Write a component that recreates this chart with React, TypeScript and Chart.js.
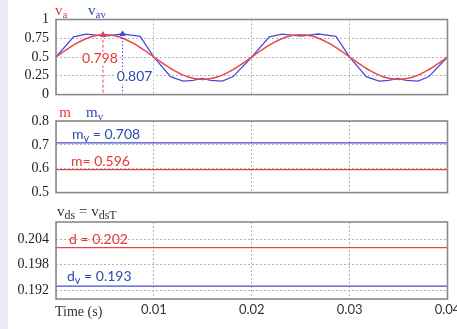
import React, { useEffect, useRef } from 'react';
import { Chart, registerables } from 'chart.js';

Chart.register(...registerables);

// ---------- data ----------
const xTicks = [0, 0.01, 0.02, 0.03, 0.04];
const xTickLabels = ['', '0.01', '0.02', '0.03', '0.04'];

const vaTime = [
  0, 0.001, 0.002, 0.003, 0.004, 0.005, 0.006, 0.007, 0.008, 0.009, 0.01,
  0.011, 0.012, 0.013, 0.014, 0.015, 0.016, 0.017, 0.018, 0.019, 0.02,
  0.021, 0.022, 0.023, 0.024, 0.025, 0.026, 0.027, 0.028, 0.029, 0.03,
  0.031, 0.032, 0.033, 0.034, 0.035, 0.036, 0.037, 0.038, 0.039, 0.04,
];
const vaValues = [
  0.5, 0.592, 0.675, 0.741, 0.783, 0.798, 0.783, 0.741, 0.675, 0.592, 0.5,
  0.408, 0.325, 0.259, 0.217, 0.202, 0.217, 0.259, 0.325, 0.408, 0.5,
  0.592, 0.675, 0.741, 0.783, 0.798, 0.783, 0.741, 0.675, 0.592, 0.5,
  0.408, 0.325, 0.259, 0.217, 0.202, 0.217, 0.259, 0.325, 0.408, 0.5,
];

const vavTime = [
  0, 0.0018, 0.0031, 0.0038, 0.005, 0.0068, 0.0075, 0.0086, 0.01,
  0.0117, 0.013, 0.014, 0.0149, 0.0158, 0.017, 0.0181, 0.02,
  0.0218, 0.0231, 0.0238, 0.025, 0.0268, 0.0275, 0.0286, 0.03,
  0.0317, 0.033, 0.034, 0.0349, 0.0358, 0.037, 0.0381, 0.04,
];
const vavValues = [
  0.5, 0.77, 0.805, 0.795, 0.78, 0.807, 0.795, 0.775, 0.5,
  0.24, 0.18, 0.19, 0.215, 0.19, 0.18, 0.24, 0.5,
  0.77, 0.805, 0.795, 0.78, 0.807, 0.795, 0.775, 0.5,
  0.24, 0.18, 0.19, 0.215, 0.19, 0.18, 0.24, 0.5,
];

const vaPeak = { t: 0.0048, v: 0.798 };
const vavPeak = { t: 0.0068, v: 0.807 };

const mValue = 0.596;
const mvValue = 0.708;
const dValue = 0.202;
const dvValue = 0.193;

const y1Ticks = [0, 0.25, 0.5, 0.75, 1];
const y1Labels = ['0', '0.25', '0.5', '0.75', '1'];
const y2Ticks = [0.5, 0.6, 0.7, 0.8];
const y2Labels = ['0.5', '0.6', '0.7', '0.8'];
const y3Ticks = [0.192, 0.198, 0.204];
const y3Labels = ['0.192', '0.198', '0.204'];

// ---------- styles ----------
const RED_LINE = '#e8474a';
const BLUE_LINE = '#4a4ad8';
const RED_TEXT = '#e23a36';
const BLUE_TEXT = '#2f4cae';
const DARK = '#333333';
const GRID = '#b4b4b4';
const FRAME = '#8a8a8a';
const SERIF = '"Liberation Serif", "DejaVu Serif", serif';
const SANS = 'Lato, "Open Sans", sans-serif';

type Part = { t: string; sub?: boolean };
type TextItem = {
  parts: Part[];
  color: string;
  family: string;
  size: number;
  subSize: number;
  bg?: boolean;
  dx?: number;
  dy?: number;
  ox?: number;
  oy?: number;
  fromBottom?: boolean;
};

function drawRich(ctx: CanvasRenderingContext2D, it: TextItem, x: number, y: number) {
  ctx.save();
  ctx.textAlign = 'left';
  ctx.textBaseline = 'alphabetic';
  let w = 0;
  for (const p of it.parts) {
    ctx.font = `${p.sub ? it.subSize : it.size}px ${it.family}`;
    w += ctx.measureText(p.t).width;
  }
  if (it.bg) {
    ctx.fillStyle = '#ffffff';
    ctx.fillRect(x - 1, y - it.size * 0.78, w + 2, it.size * 1.0);
  }
  ctx.fillStyle = it.color;
  let cx = x;
  for (const p of it.parts) {
    ctx.font = `${p.sub ? it.subSize : it.size}px ${it.family}`;
    ctx.fillText(p.t, cx, y + (p.sub ? it.size * 0.2 : 0));
    cx += ctx.measureText(p.t).width;
  }
  ctx.restore();
}

function textPlugin(items: TextItem[], xLabels: boolean) {
  return {
    id: 'richText',
    afterDatasetsDraw(chart: any) {
      const ctx = chart.ctx as CanvasRenderingContext2D;
      const area = chart.chartArea;
      for (const it of items) {
        let x: number;
        let y: number;
        if (it.dx !== undefined && it.dy !== undefined) {
          x = chart.scales.x.getPixelForValue(it.dx);
          y = chart.scales.y.getPixelForValue(it.dy);
        } else {
          x = area.left + (it.ox || 0);
          y = (it.fromBottom ? area.bottom : area.top) + (it.oy || 0);
        }
        drawRich(ctx, it, x, y);
      }
      if (xLabels) {
        const sx = chart.scales.x;
        ctx.save();
        ctx.font = `13px ${SANS}`;
        ctx.fillStyle = DARK;
        ctx.textAlign = 'center';
        ctx.textBaseline = 'middle';
        sx.ticks.forEach((tk: any, i: number) => {
          ctx.fillText(xTickLabels[i], sx.getPixelForValue(tk.value), area.bottom + 10.5);
        });
        ctx.restore();
      }
    },
  };
}

const framePlugin = {
  id: 'frame',
  afterDraw(chart: any) {
    const { ctx, chartArea: a } = chart;
    ctx.save();
    ctx.strokeStyle = FRAME;
    ctx.lineWidth = 1.6;
    ctx.strokeRect(a.left, a.top, a.right - a.left, a.bottom - a.top);
    ctx.restore();
  },
};

function makeOptions(
  yMin: number,
  yMax: number,
  yTicks: number[],
  yLabels: string[],
  padding: any
): any {
  return {
    responsive: false,
    animation: false,
    events: [],
    layout: { autoPadding: false, padding },
    plugins: { legend: { display: false }, tooltip: { enabled: false } },
    scales: {
      x: {
        type: 'linear',
        min: 0,
        max: 0.04,
        afterBuildTicks: (s: any) => {
          s.ticks = xTicks.map((v) => ({ value: v }));
        },
        grid: { color: GRID, lineWidth: 1, drawTicks: false },
        border: { display: false, dash: [2, 2] },
        ticks: { display: false },
      },
      y: {
        type: 'linear',
        min: yMin,
        max: yMax,
        afterBuildTicks: (s: any) => {
          s.ticks = yTicks.map((v) => ({ value: v }));
        },
        afterFit: (s: any) => {
          s.width = 56;
        },
        grid: { color: GRID, lineWidth: 1, drawTicks: false },
        border: { display: false, dash: [2, 2] },
        ticks: {
          padding: 7,
          color: '#1e1e1e',
          font: { family: SERIF, size: 14 },
          callback: (_v: any, i: number) => yLabels[i],
        },
      },
    },
  };
}

function pts(xs: number[], ys: number[]) {
  return xs.map((x, i) => ({ x, y: ys[i] }));
}

export default function App() {
  const r1 = useRef<HTMLCanvasElement>(null);
  const r2 = useRef<HTMLCanvasElement>(null);
  const r3 = useRef<HTMLCanvasElement>(null);

  useEffect(() => {
    const charts: Chart[] = [];

    // ---- panel 1 ----
    const t1: TextItem[] = [
      { parts: [{ t: 'v' }, { t: 'a', sub: true }], color: RED_TEXT, family: SERIF, size: 15, subSize: 11, ox: -1, oy: -4.5 },
      { parts: [{ t: 'v' }, { t: 'av', sub: true }], color: BLUE_TEXT, family: SERIF, size: 15, subSize: 11, ox: 32, oy: -4.5 },
      { parts: [{ t: '0.798' }], color: RED_TEXT, family: SANS, size: 14, subSize: 10, dx: 0.00266, dy: 0.427, bg: true },
      { parts: [{ t: '0.807' }], color: BLUE_TEXT, family: SANS, size: 14, subSize: 10, dx: 0.0062, dy: 0.181, bg: true },
    ];
    charts.push(
      new Chart(r1.current!, {
        type: 'line',
        data: {
          datasets: [
            {
              data: pts([vaPeak.t, vaPeak.t], [vaPeak.v, 0]),
              borderColor: RED_LINE,
              borderWidth: 1,
              borderDash: [3, 2],
              pointRadius: 0,
            },
            {
              data: pts([vavPeak.t, vavPeak.t], [vavPeak.v, 0]),
              borderColor: BLUE_LINE,
              borderWidth: 1,
              borderDash: [1.5, 2],
              pointRadius: 0,
            },
            {
              data: pts(vaTime, vaValues),
              borderColor: RED_LINE,
              borderWidth: 1.5,
              cubicInterpolationMode: 'monotone',
              pointRadius: 0,
            },
            {
              data: pts(vavTime, vavValues),
              borderColor: BLUE_LINE,
              borderWidth: 1.3,
              tension: 0,
              pointRadius: 0,
            },
            {
              data: [{ x: vaPeak.t, y: vaPeak.v }],
              showLine: false,
              pointStyle: 'triangle',
              pointRadius: 3,
              backgroundColor: RED_LINE,
              borderColor: RED_LINE,
            },
            {
              data: [{ x: vavPeak.t, y: vavPeak.v }],
              showLine: false,
              pointStyle: 'triangle',
              pointRadius: 3,
              backgroundColor: BLUE_LINE,
              borderColor: BLUE_LINE,
            },
          ] as any,
        },
        options: makeOptions(0, 1, y1Ticks, y1Labels, { top: 19.5, bottom: 9.3, left: 0, right: 9.5 }),
        plugins: [textPlugin(t1, false), framePlugin],
      })
    );

    // ---- panel 2 ----
    const t2: TextItem[] = [
      { parts: [{ t: 'm' }], color: RED_TEXT, family: SERIF, size: 15, subSize: 11, ox: 3.3, oy: -4.3 },
      { parts: [{ t: 'm' }, { t: 'v', sub: true }], color: BLUE_TEXT, family: SERIF, size: 15, subSize: 11, ox: 30, oy: -4.3 },
      { parts: [{ t: 'm' }, { t: 'v', sub: true }, { t: ' = 0.708' }], color: BLUE_TEXT, family: SANS, size: 14, subSize: 11, dx: 0.00163, dy: 0.7257 },
      { parts: [{ t: 'm= 0.596' }], color: RED_TEXT, family: SANS, size: 14, subSize: 11, dx: 0.00153, dy: 0.6104 },
    ];
    charts.push(
      new Chart(r2.current!, {
        type: 'line',
        data: {
          datasets: [
            { data: pts([0, 0.04], [mvValue, mvValue]), borderColor: BLUE_LINE, borderWidth: 1.3, pointRadius: 0 },
            { data: pts([0, 0.04], [mValue, mValue]), borderColor: RED_LINE, borderWidth: 1.3, pointRadius: 0 },
          ] as any,
        },
        options: makeOptions(0.5, 0.8, y2Ticks, y2Labels, { top: 17, bottom: 6.3, left: 0, right: 9.5 }),
        plugins: [textPlugin(t2, false), framePlugin],
      })
    );

    // ---- panel 3 ----
    const t3: TextItem[] = [
      {
        parts: [{ t: 'v' }, { t: 'ds', sub: true }, { t: ' = v' }, { t: 'dsT', sub: true }],
        color: DARK, family: SERIF, size: 15, subSize: 12, ox: 1, oy: -6,
      },
      { parts: [{ t: 'd = 0.202' }], color: RED_TEXT, family: SANS, size: 14, subSize: 11, dx: 0.00133, dy: 0.20286 },
      { parts: [{ t: 'd' }, { t: 'v', sub: true }, { t: ' = 0.193' }], color: BLUE_TEXT, family: SANS, size: 14, subSize: 11, dx: 0.00112, dy: 0.19421 },
      { parts: [{ t: 'Time (s)' }], color: DARK, family: SERIF, size: 14, subSize: 11, ox: -1, oy: 16.7, fromBottom: true },
    ];
    charts.push(
      new Chart(r3.current!, {
        type: 'line',
        data: {
          datasets: [
            { data: pts([0, 0.04], [dValue, dValue]), borderColor: RED_LINE, borderWidth: 1.3, pointRadius: 0 },
            { data: pts([0, 0.04], [dvValue, dvValue]), borderColor: BLUE_LINE, borderWidth: 1.3, pointRadius: 0 },
          ] as any,
        },
        options: makeOptions(0.19, 0.208, y3Ticks, y3Labels, { top: 22, bottom: 30, left: 0, right: 9.5 }),
        plugins: [textPlugin(t3, true), framePlugin],
      })
    );

    return () => {
      charts.forEach((c) => c.destroy());
    };
  }, []);

  return (
    <div
      style={{
        position: 'fixed',
        left: 0,
        top: 0,
        width: 457,
        height: 329,
        background: '#ffffff',
        overflow: 'hidden',
      }}
    >
      <div style={{ position: 'absolute', left: 0, top: 0, width: 8, height: 329, background: '#e8ebf5' }} />
      <canvas ref={r1} width={457} height={110} style={{ position: 'absolute', left: 0, top: 0 }} />
      <canvas ref={r2} width={457} height={104} style={{ position: 'absolute', left: 0, top: 104 }} />
      <canvas ref={r3} width={457} height={129} style={{ position: 'absolute', left: 0, top: 200 }} />
    </div>
  );
}
